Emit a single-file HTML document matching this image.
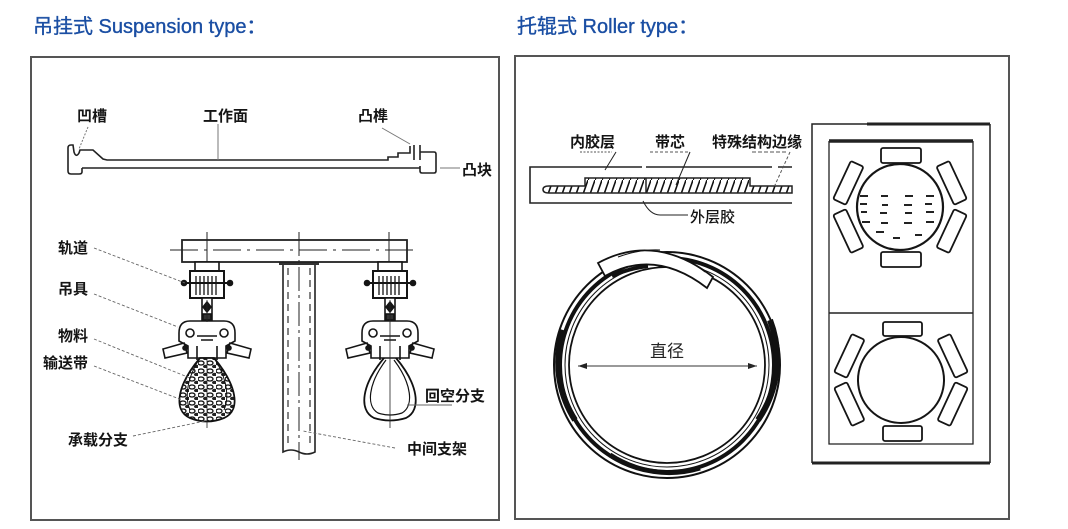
<!DOCTYPE html>
<html><head><meta charset="utf-8">
<style>
html,body{margin:0;padding:0;background:#fff;}
svg{display:block;}
.t{font-family:"Liberation Sans","Noto Sans CJK SC",sans-serif;}
.lb{font-family:"Liberation Sans","Noto Sans CJK SC",sans-serif;font-weight:bold;font-size:15px;fill:#151515;}
</style></head><body>
<svg width="1068" height="529" viewBox="0 0 1068 529" xmlns="http://www.w3.org/2000/svg">
<defs>
  <pattern id="hatch" patternUnits="userSpaceOnUse" width="7" height="20">
    <line x1="0" y1="20" x2="7" y2="0" stroke="#111" stroke-width="1.6"/>
  </pattern>
  <pattern id="mat" patternUnits="userSpaceOnUse" width="9" height="8">
    <rect width="9" height="8" fill="#fff"/>
    <ellipse cx="3" cy="3" rx="3" ry="2" fill="none" stroke="#111" stroke-width="1.3"/>
    <ellipse cx="7.5" cy="6.5" rx="2.5" ry="1.8" fill="#222"/>
  </pattern>
  <marker id="ar" markerWidth="10" markerHeight="8" refX="9" refY="4" orient="auto" markerUnits="userSpaceOnUse">
    <path d="M0,1 L9,4 L0,7 Z" fill="#222"/>
  </marker>
  <g id="hang" stroke="#151515" fill="#fff" stroke-width="1.6">
    <rect x="-12" y="262" width="24" height="9"/>
    <rect x="-17" y="271" width="34" height="27" stroke-width="2"/>
    <path d="M-11,276 V295 M-7,276 V295 M-3,276 V295 M1,276 V295 M5,276 V295 M9,276 V295" stroke-width="1.3"/>
    <line x1="-23" y1="283" x2="23" y2="283" stroke-width="2"/>
    <circle cx="-23" cy="283" r="2.5" fill="#151515"/>
    <circle cx="23" cy="283" r="2.5" fill="#151515"/>
    <rect x="-5" y="298" width="10" height="24"/>
    <path d="M0,302 L4,307 L0,312 L-4,307 Z" fill="#151515"/>
    <rect x="-4" y="314" width="8" height="6" fill="#333"/>
    <path d="M-28,333 Q-28,321 -17,321 L17,321 Q28,321 28,333 L28,341 L19,346 L19,358 L-19,358 L-19,346 L-28,341 Z"/>
    <path d="M-23,343 L-44,349 L-42,358 L-20,353 Z"/>
    <path d="M23,343 L44,349 L42,358 L20,353 Z"/>
    <circle cx="-17" cy="333" r="4"/>
    <circle cx="17" cy="333" r="4"/>
    <path d="M-10,336 L10,336 M-10,346 L-10,360 M10,346 L10,360 M-6,340 L6,340" fill="none"/>
    <circle cx="-22" cy="348" r="2" fill="#151515"/>
    <circle cx="22" cy="348" r="2" fill="#151515"/>
  </g>
</defs>

<rect width="1068" height="529" fill="#fff"/>

<!-- Titles -->
<text x="33" y="33" font-size="20" fill="#1a4ea3" stroke="#1a4ea3" stroke-width="0.35" class="t">吊挂式 Suspension type：</text>
<text x="517" y="33" font-size="20" fill="#1a4ea3" stroke="#1a4ea3" stroke-width="0.35" class="t">托辊式 Roller type：</text>

<!-- Frames -->
<rect x="31" y="57" width="468" height="463" fill="none" stroke="#555" stroke-width="2"/>
<rect x="515" y="56" width="494" height="463" fill="none" stroke="#555" stroke-width="2"/>

<!-- ===== Left: profile ===== -->
<g fill="none" stroke="#222" stroke-width="1.6">
  <path d="M82,168 L82,172 Q82,174 79,174 L71,174 Q68,174 68,171 L68,148 Q68,145 71,145 L73,145 L74,152 Q76,158 79,153 L80,150 L93,150 L103,159 L107,160 L388,160 L388,157 L398,157 L398,153 L410,153 L410,146"/>
  <path d="M82,168 L420,168"/>
  <path d="M414,145 L414,160 M420,145 L420,160 M420,152 L434,152 Q436,152 436,154 L436,171 Q436,173 434,173 L422,173 Q420,173 420,171 L420,166"/>
</g>
<g stroke="#777" stroke-width="1" fill="none">
  <path d="M88,127 L79,149" stroke-dasharray="2,1.5"/>
  <path d="M218,124 L218,160"/>
  <path d="M382,128 L410,144"/>
  <path d="M440,168 L460,168"/>
</g>
<text class="lb" x="77" y="121">凹槽</text>
<text class="lb" x="203" y="121">工作面</text>
<text class="lb" x="358" y="121">凸榫</text>
<text class="lb" x="462" y="175">凸块</text>

<!-- ===== Left: conveyor ===== -->
<rect x="279" y="261" width="40" height="4" fill="#333"/>
<path d="M283,265 L283,452 Q291,448 299,452 Q307,456 315,452 L315,265" fill="none" stroke="#222" stroke-width="1.6"/>
<path d="M288,268 V448 M310,268 V448" stroke="#333" stroke-width="1.2" stroke-dasharray="7,5"/>
<rect x="182" y="240" width="225" height="22" fill="#fff" stroke="#222" stroke-width="1.8"/>
<path d="M170,250 L418,250" stroke="#222" stroke-width="1" stroke-dasharray="28,6,3,6"/>
<path d="M299,232 L299,460" stroke="#222" stroke-width="1" stroke-dasharray="24,4,3,4"/>
<path d="M207,232 L207,262 M389,232 L389,262" stroke="#222" stroke-width="1"/>

<use href="#hang" x="207"/>
<use href="#hang" x="390"/>

<path d="M200,358 C178,384 172,410 190,418 Q207,425 224,418 C242,410 236,384 214,358 Z" fill="url(#mat)" stroke="#111" stroke-width="1.8"/>
<path d="M200,358 C188,376 184,396 190,410 M214,358 C226,376 230,396 224,410" fill="none" stroke="#111" stroke-width="1"/>
<path d="M207,358 V428" stroke="#222" stroke-width="0.8"/>
<path d="M384,358 C362,384 358,410 374,418 Q390,423 406,418 C422,410 418,384 396,358" fill="none" stroke="#111" stroke-width="1.8"/>
<path d="M386,360 C368,384 366,406 378,413 Q390,417 402,413 C414,406 412,384 394,360" fill="none" stroke="#111" stroke-width="1.2"/>
<path d="M390,300 V428" stroke="#222" stroke-width="0.8"/>
<path d="M207,300 V322" stroke="#222" stroke-width="0.8"/>

<g stroke="#666" stroke-width="0.9" fill="none" stroke-dasharray="3,2">
  <path d="M94,248 L185,283"/>
  <path d="M94,294 L178,327"/>
  <path d="M94,339 L190,378"/>
  <path d="M94,366 L182,400"/>
  <path d="M133,436 L205,421"/>
  <path d="M395,448 L303,431"/>
</g>
<path d="M407,405 L452,405" stroke="#666" stroke-width="1"/>
<text class="lb" x="58" y="253">轨道</text>
<text class="lb" x="58" y="294">吊具</text>
<text class="lb" x="58" y="341">物料</text>
<text class="lb" x="43" y="368">输送带</text>
<text class="lb" x="68" y="445">承载分支</text>
<text class="lb" x="425" y="401">回空分支</text>
<text class="lb" x="407" y="454">中间支架</text>

<!-- ===== Right: belt cross-section ===== -->
<g fill="none" stroke="#222" stroke-width="1.6">
  <path d="M642,167 L530,167 L530,203 L792,203"/>
  <path d="M646,167 L772,167 M778,167 L792,167"/>
</g>
<path d="M549,186 L585,186 L585,178 L750,178 L750,186 L792,186 L792,193 L549,193 Q543,193 543,189.5 Q543,186 549,186 Z" fill="url(#hatch)" stroke="#222" stroke-width="1.5"/>
<path d="M646,178 L646,193" stroke="#222" stroke-width="1.5"/>
<g stroke="#555" stroke-width="1" fill="none">
  <path d="M580,152 L612,152" stroke-dasharray="2,1.5"/>
  <path d="M616,152 L605,170" stroke="#222"/>
  <path d="M650,152 L688,152" stroke-dasharray="3,2"/>
  <path d="M690,152 L676,185" stroke="#222"/>
  <path d="M752,152 L788,152" stroke-dasharray="4,2"/>
  <path d="M790,152 L775,185" stroke-dasharray="3,2"/>
  <path d="M643,201 Q650,215 660,215 L688,215" stroke="#222"/>
</g>
<text class="lb" x="570" y="147">内胶层</text>
<text class="lb" x="655" y="147">带芯</text>
<text class="lb" x="712" y="147">特殊结构边缘</text>
<text class="lb" x="690" y="222" style="font-weight:500">外层胶</text>

<!-- ===== Right: ring ===== -->
<g fill="none" stroke="#111">
  <circle cx="667" cy="365" r="113" stroke-width="2"/>
  <circle cx="667" cy="365" r="107" stroke-width="4"/>
  <circle cx="667" cy="365" r="102" stroke-width="1"/>
  <circle cx="667" cy="365" r="98" stroke-width="1.8"/>
  <path d="M563,330 A108,108 0 0 0 575,420" stroke-width="6"/>
  <path d="M770,320 A108,108 0 0 1 758,420" stroke-width="6"/>
  <path d="M610,455 A108,108 0 0 0 700,468" stroke-width="5"/>
</g>
<path d="M598,263 Q655,232 713,277 L707,288 Q655,248 605,276 Z" fill="#fff" stroke="#111" stroke-width="1.8"/>
<path d="M618,257 Q640,249 660,250 M690,262 Q700,268 705,272" fill="none" stroke="#111" stroke-width="1"/>
<path d="M612,276 Q630,268 648,266" fill="none" stroke="#111" stroke-width="4"/>
<line x1="578" y1="366" x2="757" y2="366" stroke="#333" stroke-width="1" marker-end="url(#ar)"/>
<line x1="757" y1="366" x2="578" y2="366" stroke="#333" stroke-width="1" marker-end="url(#ar)"/>
<text x="650" y="357" font-size="17" fill="#222" class="t">直径</text>

<!-- ===== Right: roller boxes ===== -->
<g fill="none" stroke="#222">
  <path d="M812,463 L812,124 L867,124" stroke-width="1.5"/>
  <path d="M867,124 L990,124" stroke-width="3"/>
  <path d="M990,124 L990,463" stroke-width="1.5"/>
  <path d="M812,463 L990,463" stroke-width="3"/>
  <path d="M829,141 L973,141" stroke-width="3.5"/>
  <path d="M829,141 L829,444 L973,444 L973,141" stroke-width="1.3"/>
  <path d="M829,313 L973,313" stroke-width="1.5"/>
</g>
<g stroke="#151515" stroke-width="1.8" fill="#fff">
  <circle cx="900" cy="207" r="43" stroke-width="2.2"/>
  <rect x="881" y="148" width="40" height="15" rx="2"/>
  <rect x="881" y="252" width="40" height="15" rx="2"/>
  <rect x="-7" y="-21" width="14" height="42" rx="2" transform="translate(900,207) rotate(-155) translate(57,0)"/>
  <rect x="-7" y="-21" width="14" height="42" rx="2" transform="translate(900,207) rotate(155) translate(57,0)"/>
  <rect x="-7" y="-21" width="14" height="42" rx="2" transform="translate(900,207) rotate(-25) translate(57,0)"/>
  <rect x="-7" y="-21" width="14" height="42" rx="2" transform="translate(900,207) rotate(25) translate(57,0)"/>
</g>
<g stroke="#222" stroke-width="2" fill="none">
  <path d="M860,196 H868 M881,196 H888 M905,196 H913 M926,196 H934"/>
  <path d="M860,204 H867 M882,205 H888 M904,205 H912 M925,204 H932"/>
  <path d="M861,212 H867 M880,213 H887 M905,213 H912 M926,212 H934"/>
  <path d="M862,222 H870 M881,223 H888 M904,223 H912 M926,222 H934"/>
  <path d="M876,232 H884 M893,238 H900 M915,235 H922"/>
</g>
<g stroke="#151515" stroke-width="1.8" fill="#fff">
  <circle cx="901" cy="380" r="43" stroke-width="2"/>
  <rect x="883" y="322" width="39" height="14" rx="2"/>
  <rect x="883" y="426" width="39" height="15" rx="2"/>
  <rect x="-7" y="-21" width="14" height="42" rx="2" transform="translate(901,380) rotate(-155) translate(57,0)"/>
  <rect x="-7" y="-21" width="14" height="42" rx="2" transform="translate(901,380) rotate(155) translate(57,0)"/>
  <rect x="-7" y="-21" width="14" height="42" rx="2" transform="translate(901,380) rotate(-25) translate(57,0)"/>
  <rect x="-7" y="-21" width="14" height="42" rx="2" transform="translate(901,380) rotate(25) translate(57,0)"/>
</g>
</svg>
</body></html>
